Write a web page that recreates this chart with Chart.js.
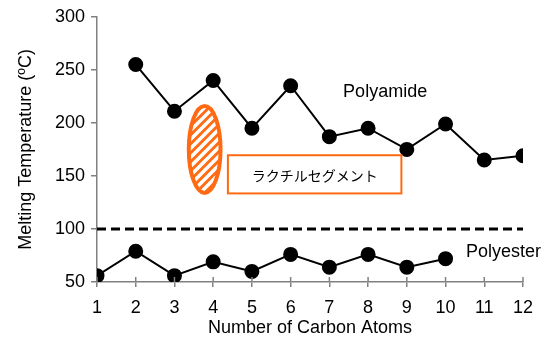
<!DOCTYPE html>
<html>
<head>
<meta charset="utf-8">
<script src="https://cdn.jsdelivr.net/npm/chart.js@4.4.1/dist/chart.umd.min.js"></script>
<style>
  html, body { margin: 0; padding: 0; background: #fff; }
</style>
</head>
<body>
<canvas id="chart" width="547" height="339"></canvas>
<script>
// carbon atoms per repeat unit
const polyamideX = [2, 3, 4, 5, 6, 7, 8, 9, 10, 11, 12];
const polyamideY = [255, 211, 240, 195, 235, 187, 195, 175, 199, 165, 169];
const polyesterX = [1, 2, 3, 4, 5, 6, 7, 8, 9, 10];
const polyesterY = [56, 79, 56, 69, 60, 76, 64, 76, 64, 72];
const thresholdY = 100;
const yTicks = [50, 100, 150, 200, 250, 300];
const xTicks = [1, 2, 3, 4, 5, 6, 7, 8, 9, 10, 11, 12];

const toPoints = (xs, ys) => xs.map((x, i) => ({ x: x, y: ys[i] }));

const orange = '#ff6a13';
const axisGray = '#808080';
const font = '"Liberation Sans", Arial, sans-serif';

// annotations: labels, hatched ellipse, boxed label, inner half of x ticks
const annotations = {
  id: 'annotations',
  afterDatasetsDraw(chart) {
    const { ctx, scales: { x, y } } = chart;
    ctx.save();

    // inner part of x ticks (they cross the axis)
    ctx.strokeStyle = axisGray;
    ctx.lineWidth = 1.5;
    xTicks.forEach(v => {
      const px = x.getPixelForValue(v);
      ctx.beginPath();
      ctx.moveTo(px, y.bottom);
      ctx.lineTo(px, y.bottom - 5);
      ctx.stroke();
    });

    // series labels
    ctx.fillStyle = '#000';
    ctx.font = '18px ' + font;
    ctx.textBaseline = 'middle';
    ctx.textAlign = 'center';
    ctx.fillText('Polyamide', x.getPixelForValue(8.44), y.getPixelForValue(229));
    ctx.textAlign = 'left';
    ctx.fillText('Polyester', x.getPixelForValue(10.53), y.getPixelForValue(78));

    // hatched ellipse
    const cx = x.getPixelForValue(3.78);
    const cy = y.getPixelForValue(175);
    const rx = x.getPixelForValue(3.78 + 0.41) - cx;
    const ry = cy - y.getPixelForValue(175 + 41);
    ctx.beginPath();
    ctx.ellipse(cx, cy, rx, ry, 0, 0, Math.PI * 2);
    ctx.fillStyle = orange;
    ctx.fill();
    ctx.save();
    ctx.clip();
    ctx.strokeStyle = '#fff';
    ctx.lineWidth = 3.5;
    for (let k = -ry * 2; k < ry * 2; k += 9) {
      ctx.beginPath();
      ctx.moveTo(cx - rx - 5, cy + k + rx + 5);
      ctx.lineTo(cx + rx + 5, cy + k - rx - 5);
      ctx.stroke();
    }
    ctx.restore();
    ctx.beginPath();
    ctx.ellipse(cx, cy, rx, ry, 0, 0, Math.PI * 2);
    ctx.strokeStyle = orange;
    ctx.lineWidth = 4;
    ctx.stroke();

    // boxed label
    const bx1 = x.getPixelForValue(4.38), bx2 = x.getPixelForValue(8.86);
    const by1 = y.getPixelForValue(169.5), by2 = y.getPixelForValue(133.5);
    ctx.fillStyle = '#fff';
    ctx.fillRect(bx1, by1, bx2 - bx1, by2 - by1);
    ctx.strokeStyle = orange;
    ctx.lineWidth = 2;
    ctx.strokeRect(bx1, by1, bx2 - bx1, by2 - by1);
    ctx.fillStyle = '#000';
    ctx.font = '14px "Noto Sans CJK JP", sans-serif';
    ctx.textAlign = 'center';
    ctx.fillText('ラクチルセグメント', (bx1 + bx2) / 2, (by1 + by2) / 2 + 1);

    ctx.restore();
  }
};

new Chart(document.getElementById('chart'), {
  type: 'line',
  data: {
    datasets: [
      {
        label: 'Polyamide',
        data: toPoints(polyamideX, polyamideY),
        borderColor: '#000',
        backgroundColor: '#000',
        borderWidth: 2,
        pointRadius: 6.5,
        tension: 0
      },
      {
        label: 'Polyester',
        data: toPoints(polyesterX, polyesterY),
        borderColor: '#000',
        backgroundColor: '#000',
        borderWidth: 2,
        pointRadius: 6.5,
        tension: 0
      },
      {
        label: 'threshold',
        data: [{ x: 1, y: thresholdY }, { x: 12, y: thresholdY }],
        borderColor: '#000',
        borderWidth: 3,
        borderDash: [9, 5],
        pointRadius: 0
      }
    ]
  },
  options: {
    responsive: false,
    animation: false,
    devicePixelRatio: 1,
    layout: { padding: { top: 14, right: 24, left: 0, bottom: 0 } },
    plugins: {
      legend: { display: false },
      tooltip: { enabled: false }
    },
    scales: {
      x: {
        type: 'linear',
        min: 1,
        max: 12,
        afterBuildTicks: s => { s.ticks = xTicks.map(v => ({ value: v })); },
        afterFit: s => { s.height = 57; },
        border: { color: axisGray, width: 1.5 },
        grid: { drawOnChartArea: false, drawTicks: true, tickLength: 5, color: axisGray, lineWidth: 1.5 },
        ticks: { color: '#000', font: { family: font, size: 18 }, padding: 10, maxRotation: 0, autoSkip: false },
        title: {
          display: true,
          text: 'Number of Carbon Atoms',
          color: '#000',
          font: { family: font, size: 18 },
          padding: { top: 0, bottom: 0 }
        }
      },
      y: {
        min: 50,
        max: 300,
        afterBuildTicks: s => { s.ticks = yTicks.map(v => ({ value: v })); },
        afterFit: s => { s.width = 97; },
        border: { color: axisGray, width: 1.5 },
        grid: { drawOnChartArea: false, drawTicks: true, tickLength: 6, color: axisGray, lineWidth: 1.5 },
        ticks: { color: '#000', font: { family: font, size: 18 }, padding: 6, autoSkip: false },
        title: {
          display: true,
          text: 'Melting Temperature (ºC)',
          color: '#000',
          font: { family: font, size: 18 },
          padding: { top: 15, bottom: 0 }
        }
      }
    }
  },
  plugins: [annotations]
});
</script>
</body>
</html>
